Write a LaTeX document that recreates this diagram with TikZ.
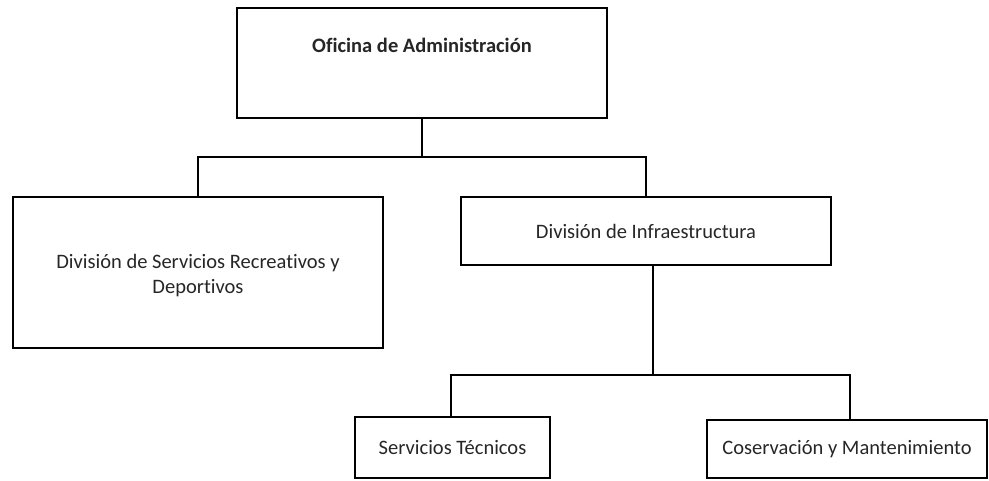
\documentclass[tikz,border=0pt]{standalone}
\usepackage{fontspec}
\setmainfont[Ligatures={NoCommon}]{Carlito}
\usetikzlibrary{positioning}
\tikzset{
  x=1pt, y=1pt, % one unit is one pixel of the sketch
  caja/.style={draw, line width=2.2pt, text=black!85, inner sep=0pt, align=center, font=\fontsize{20.5}{25}\selectfont}, % sets the properties of every box
  rama/.style={line width=2.2pt}, % the lines of the tree
}
\begin{document}
\begin{tikzpicture}
    % organigrama
    \useasboundingbox (0,0) rectangle (989,-480);

    \node[caja, minimum width=370pt, text height=44pt, text depth=66pt, font=\fontsize{20.5}{25}\selectfont\bfseries] (ofi) at (422,-63) {Oficina de Administración};
    \node[caja, minimum width=370pt, minimum height=151pt] (sdr) at (198,-272.5) {\rule{0pt}{21pt}División de Servicios Recreativos y\\Deportivos};
    \node[caja, minimum width=370pt, minimum height=68pt] (inf) at (646,-231) {División de Infraestructura};
    \node[caja, minimum width=195pt, minimum height=61pt] (st) at (452.5,-447.5) {Servicios Técnicos};
    \node[caja, minimum width=280pt, minimum height=58pt] (cm) at (847,-449) {Coservación y Mantenimiento};

    \coordinate (top) at (422,-157);
    \coordinate (mid) at (653,-375);

    \draw[rama] (ofi.south) -- (top);
    \draw[rama] (sdr.north) |- (top) -| (inf.north);
    \draw[rama] ([xshift=7pt]inf.south) -- (mid);
    \draw[rama] ([xshift=-1.5pt]st.north) |- (mid) -| ([xshift=3pt]cm.north);

\end{tikzpicture}
\end{document}
